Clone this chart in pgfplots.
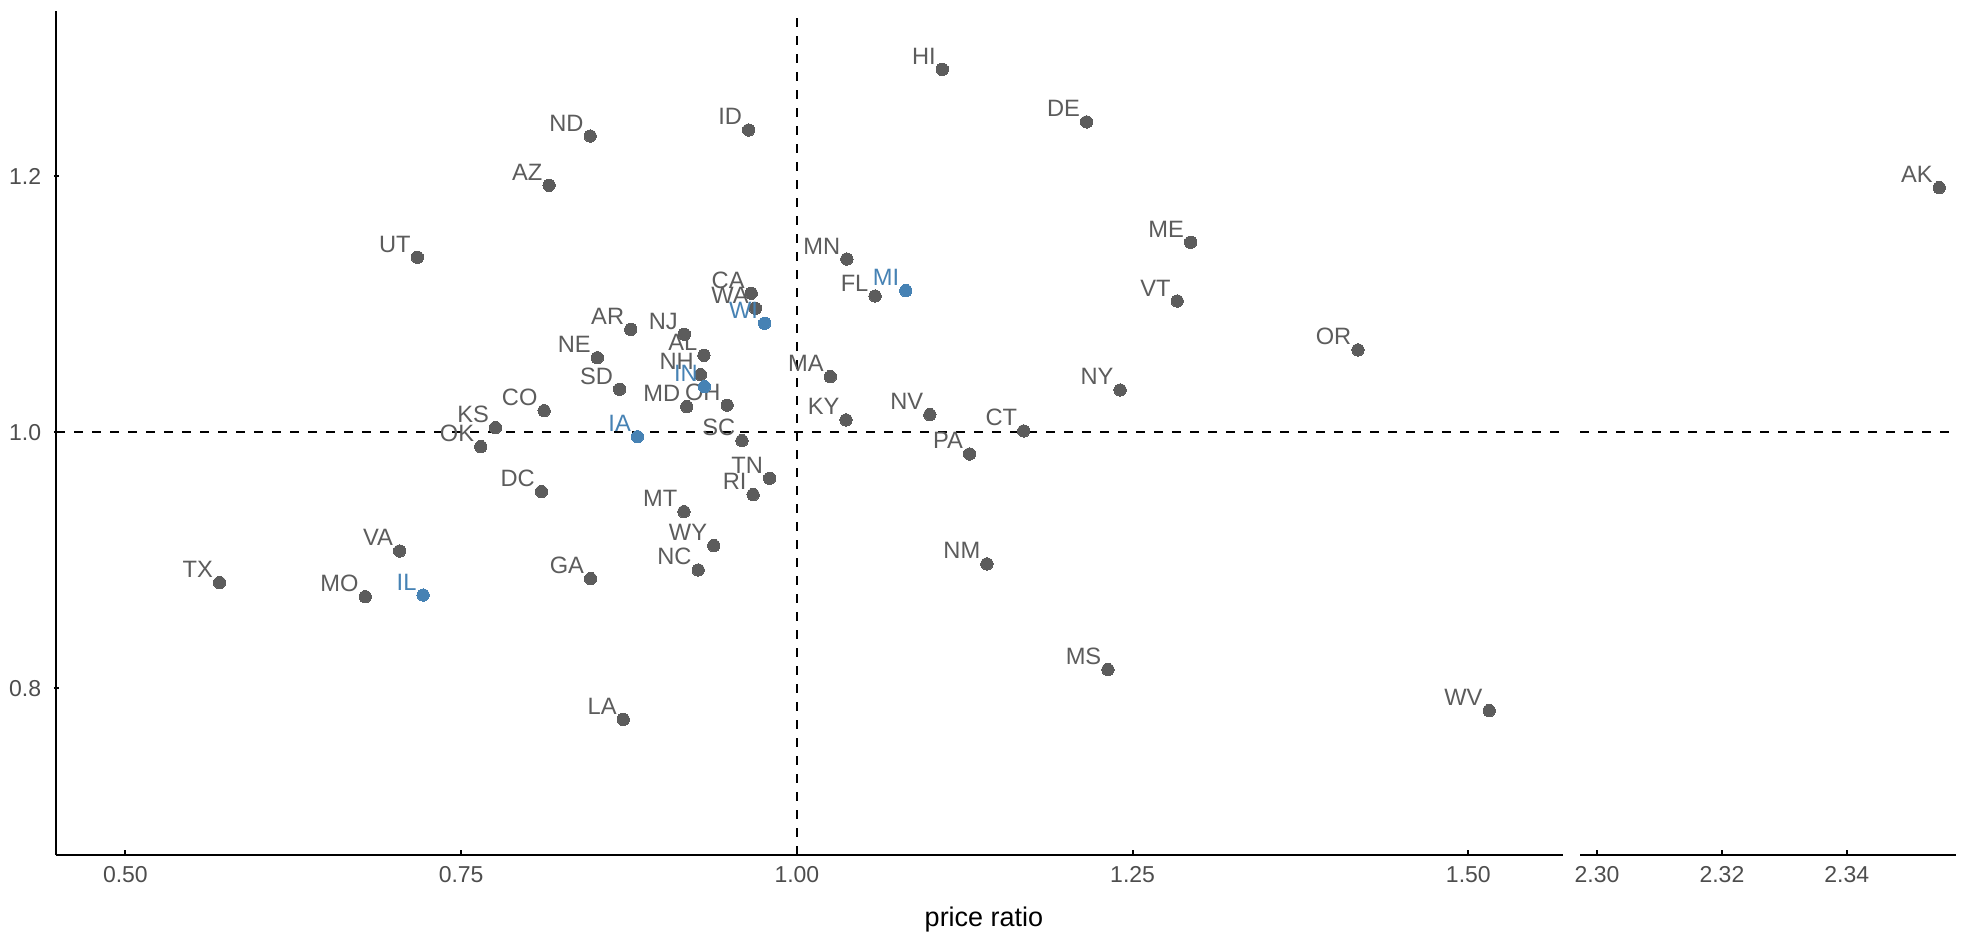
\documentclass[border=0pt]{standalone}
\usepackage{fontspec}
\setmainfont{Liberation Sans}
\usepackage{pgfplots}
\usepackage{pgfplotstable}
\pgfplotsset{compat=1.18}
\definecolor{ptgray}{HTML}{5C5C5C}
\definecolor{ptblue}{HTML}{4682B4}
\definecolor{tickgray}{HTML}{4D4D4D}

\pgfplotstableread{
label x y
HI 1.1083 1.2837
DE 1.2157 1.2426
ND 0.8461 1.2316
ID 0.9641 1.2363
AZ 0.8155 1.1931
UT 0.7174 1.1369
ME 1.2932 1.1486
MN 1.0372 1.1355
FL 1.0582 1.1066
VT 1.2832 1.1027
CA 0.9660 1.1088
WA 0.9691 1.0970
AR 0.8763 1.0806
NJ 0.9162 1.0767
NE 0.8514 1.0584
AL 0.9308 1.0603
NH 0.9282 1.0452
SD 0.8680 1.0338
MA 1.0249 1.0436
OR 1.4178 1.0645
NY 1.2407 1.0332
CO 0.8118 1.0170
MD 0.9180 1.0202
OH 0.9481 1.0213
KS 0.7756 1.0038
KY 1.0366 1.0098
NV 1.0990 1.0139
CT 1.1689 1.0012
OK 0.7646 0.9889
SC 0.9591 0.9936
PA 1.1286 0.9832
DC 0.8098 0.9538
TN 0.9797 0.9642
RI 0.9674 0.9514
MT 0.9159 0.9381
VA 0.7042 0.9074
WY 0.9381 0.9116
TX 0.5701 0.8827
NC 0.9265 0.8926
GA 0.8464 0.8858
MO 0.6786 0.8717
NM 1.1415 0.8973
MS 1.2316 0.8147
WV 1.5155 0.7827
LA 0.8707 0.7759
}\graydata

\pgfplotstableread{
label x y
MI 1.0811 1.1108
WI 0.9760 1.0853
IN 0.9312 1.0358
IA 0.8813 0.9967
IL 0.7217 0.8730
}\bluedata

\pgfplotstableread{
label x y
AK 2.3548 1.1913
}\akdata

\begin{document}
\begin{tikzpicture}
\useasboundingbox (0pt,0pt) rectangle (593.1pt,280.8pt);
\pgfplotsset{
  brk/.style={
    scale only axis, height=253.29pt, ymin=0.6699, ymax=1.3295,
    clip=false,
    axis x line=bottom,
    xtick align=inside, ytick align=inside,
    major tick length=1.5pt,
    tick style={line width=0.6pt, black},
    xticklabel style={inner sep=0pt, yshift=-3.3pt, font=\fontsize{6.9}{7}\selectfont, text=tickgray},
    yticklabel style={inner sep=0pt, xshift=-3.6pt, font=\fontsize{6.9}{7}\selectfont, text=tickgray},
    point meta=explicit symbolic,
  },
  lines/.style={
    axis line style={-, line width=0.6pt, black},
    x axis line style={-}, y axis line style={-},
  },
  lab/.style={
    nodes near coords,
    every node near coord/.append style={anchor=base east, xshift=-2pt, yshift=1.5pt, inner sep=0pt, font=\fontsize{7.1}{8}\selectfont, text=#1},
  },
  refline/.style={black, line width=0.6pt, dash pattern=on 2.7pt off 2.7pt, forget plot, no markers},
  pts/.style={#1, only marks, mark=*, mark size=1.85pt, mark options={draw=#1, fill=#1, line width=0pt}, lab=#1},
}
\begin{axis}[brk, at={(16.875pt,24.3pt)}, anchor=south west, width=451.99pt,
  xmin=0.4485, xmax=1.5704,
  axis y line=left, lines,
  xtick={0.5,0.75,1,1.25,1.5}, xticklabels={0.50,0.75,1.00,1.25,1.50},
  ytick={0.8,1,1.2}, yticklabels={0.8,1.0,1.2}]
\addplot[refline] coordinates {(1,0.6699) (1,1.3295)};
\addplot[refline] coordinates {(0.4485,1) (1.5704,1)};
\addplot[pts=ptgray] table[x=x, y=y, meta=label] {\graydata};
\addplot[pts=ptblue] table[x=x, y=y, meta=label] {\bluedata};
\end{axis}
\begin{axis}[brk, at={(474.03pt,24.3pt)}, anchor=south west, width=112.8pt,
  xmin=2.2973, xmax=2.3575,
  axis y line=none, lines,
  xtick={2.30,2.32,2.34}, xticklabels={2.30,2.32,2.34},
  ytick=\empty]
\addplot[refline] coordinates {(2.2973,1) (2.3575,1)};
\addplot[pts=ptgray] table[x=x, y=y, meta=label] {\akdata};
\end{axis}
\node[anchor=base, inner sep=0pt, font=\fontsize{8.1}{9}\selectfont] at (295.2pt,3pt) {price ratio};
\end{tikzpicture}
\end{document}
